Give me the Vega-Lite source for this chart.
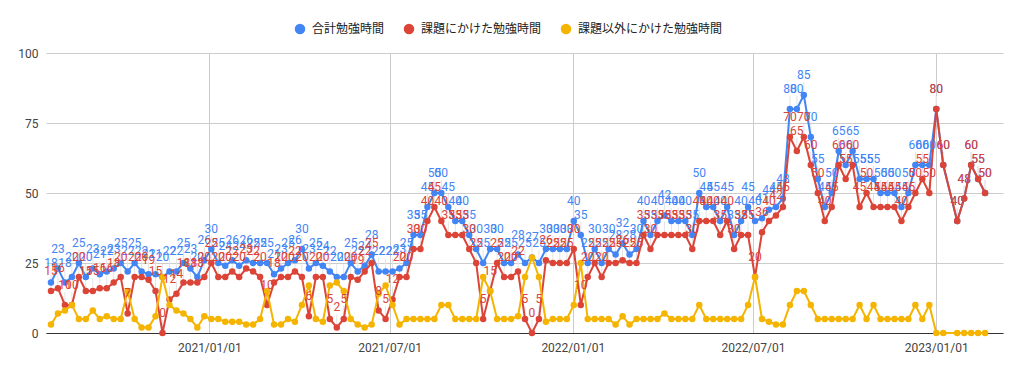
{
"$schema": "https://vega.github.io/schema/vega-lite/v6.json",
"width": 957, "height": 280,
"autosize": {"type": "none"},
"padding": {"left": 46, "top": 53, "right": 6, "bottom": 40},
"config": {"view": {"stroke": null}, "font": "Roboto"},
"data": {"values": [
{"d":"2020/07/26","t":18,"r":15,"o":3},
{"d":"2020/08/02","t":23,"r":16,"o":7},
{"d":"2020/08/09","t":18,"r":10,"o":8},
{"d":"2020/08/16","t":20,"r":10,"o":10},
{"d":"2020/08/23","t":25,"r":20,"o":5},
{"d":"2020/08/30","t":20,"r":15,"o":5},
{"d":"2020/09/06","t":23,"r":15,"o":8},
{"d":"2020/09/13","t":21,"r":16,"o":5},
{"d":"2020/09/20","t":22,"r":16,"o":6},
{"d":"2020/09/27","t":23,"r":18,"o":5},
{"d":"2020/10/04","t":25,"r":20,"o":5},
{"d":"2020/10/11","t":22,"r":7,"o":15},
{"d":"2020/10/18","t":25,"r":20,"o":5},
{"d":"2020/10/25","t":22,"r":20,"o":2},
{"d":"2020/11/01","t":21,"r":19,"o":2},
{"d":"2020/11/08","t":21,"r":15,"o":6},
{"d":"2020/11/15","t":20,"r":0,"o":20},
{"d":"2020/11/22","t":22,"r":12,"o":10},
{"d":"2020/11/29","t":22,"r":14,"o":8},
{"d":"2020/12/06","t":25,"r":18,"o":7},
{"d":"2020/12/13","t":23,"r":18,"o":5},
{"d":"2020/12/20","t":20,"r":18,"o":2},
{"d":"2020/12/27","t":26,"r":20,"o":6},
{"d":"2021/01/03","t":30,"r":25,"o":5},
{"d":"2021/01/10","t":25,"r":20,"o":5},
{"d":"2021/01/17","t":24,"r":20,"o":4},
{"d":"2021/01/24","t":26,"r":22,"o":4},
{"d":"2021/01/31","t":24,"r":20,"o":4},
{"d":"2021/02/07","t":26,"r":23,"o":3},
{"d":"2021/02/14","t":25,"r":22,"o":3},
{"d":"2021/02/21","t":25,"r":20,"o":5},
{"d":"2021/02/28","t":25,"r":10,"o":15},
{"d":"2021/03/07","t":21,"r":18,"o":3},
{"d":"2021/03/14","t":23,"r":20,"o":3},
{"d":"2021/03/21","t":25,"r":20,"o":5},
{"d":"2021/03/28","t":26,"r":22,"o":4},
{"d":"2021/04/04","t":30,"r":20,"o":10},
{"d":"2021/04/11","t":23,"r":6,"o":17},
{"d":"2021/04/18","t":25,"r":20,"o":5},
{"d":"2021/04/25","t":24,"r":20,"o":4},
{"d":"2021/05/02","t":22,"r":5,"o":17},
{"d":"2021/05/09","t":20,"r":2,"o":18},
{"d":"2021/05/16","t":20,"r":5,"o":15},
{"d":"2021/05/23","t":25,"r":20,"o":5},
{"d":"2021/05/30","t":22,"r":19,"o":3},
{"d":"2021/06/06","t":24,"r":22,"o":2},
{"d":"2021/06/13","t":28,"r":25,"o":3},
{"d":"2021/06/20","t":22,"r":8,"o":14},
{"d":"2021/06/27","t":22,"r":5,"o":17},
{"d":"2021/07/04","t":22,"r":12,"o":10},
{"d":"2021/07/11","t":23,"r":20,"o":3},
{"d":"2021/07/18","t":25,"r":20,"o":5},
{"d":"2021/07/25","t":35,"r":30,"o":5},
{"d":"2021/08/01","t":35,"r":30,"o":5},
{"d":"2021/08/08","t":45,"r":40,"o":5},
{"d":"2021/08/15","t":50,"r":45,"o":5},
{"d":"2021/08/22","t":50,"r":40,"o":10},
{"d":"2021/08/29","t":45,"r":35,"o":10},
{"d":"2021/09/05","t":40,"r":35,"o":5},
{"d":"2021/09/12","t":40,"r":35,"o":5},
{"d":"2021/09/19","t":35,"r":30,"o":5},
{"d":"2021/09/26","t":30,"r":25,"o":5},
{"d":"2021/10/03","t":25,"r":5,"o":20},
{"d":"2021/10/10","t":30,"r":15,"o":15},
{"d":"2021/10/17","t":30,"r":25,"o":5},
{"d":"2021/10/24","t":25,"r":20,"o":5},
{"d":"2021/10/31","t":25,"r":20,"o":5},
{"d":"2021/11/07","t":28,"r":22,"o":6},
{"d":"2021/11/14","t":25,"r":5,"o":20},
{"d":"2021/11/21","t":27,"r":0,"o":27},
{"d":"2021/11/28","t":25,"r":5,"o":20},
{"d":"2021/12/05","t":30,"r":26,"o":4},
{"d":"2021/12/12","t":30,"r":25,"o":5},
{"d":"2021/12/19","t":30,"r":25,"o":5},
{"d":"2021/12/26","t":30,"r":25,"o":5},
{"d":"2022/01/02","t":40,"r":30,"o":10},
{"d":"2022/01/09","t":35,"r":10,"o":25},
{"d":"2022/01/16","t":25,"r":20,"o":5},
{"d":"2022/01/23","t":30,"r":25,"o":5},
{"d":"2022/01/30","t":25,"r":20,"o":5},
{"d":"2022/02/06","t":30,"r":25,"o":5},
{"d":"2022/02/13","t":28,"r":25,"o":3},
{"d":"2022/02/20","t":32,"r":26,"o":6},
{"d":"2022/02/27","t":28,"r":25,"o":3},
{"d":"2022/03/06","t":30,"r":25,"o":5},
{"d":"2022/03/13","t":40,"r":35,"o":5},
{"d":"2022/03/20","t":35,"r":30,"o":5},
{"d":"2022/03/27","t":40,"r":35,"o":5},
{"d":"2022/04/03","t":42,"r":35,"o":7},
{"d":"2022/04/10","t":40,"r":35,"o":5},
{"d":"2022/04/17","t":40,"r":35,"o":5},
{"d":"2022/04/24","t":40,"r":35,"o":5},
{"d":"2022/05/01","t":35,"r":30,"o":5},
{"d":"2022/05/08","t":50,"r":40,"o":10},
{"d":"2022/05/15","t":45,"r":40,"o":5},
{"d":"2022/05/22","t":45,"r":40,"o":5},
{"d":"2022/05/29","t":40,"r":35,"o":5},
{"d":"2022/06/05","t":45,"r":40,"o":5},
{"d":"2022/06/12","t":35,"r":30,"o":5},
{"d":"2022/06/19","t":40,"r":35,"o":5},
{"d":"2022/06/26","t":45,"r":35,"o":10},
{"d":"2022/07/03","t":40,"r":20,"o":20},
{"d":"2022/07/10","t":41,"r":36,"o":5},
{"d":"2022/07/17","t":44,"r":40,"o":4},
{"d":"2022/07/24","t":45,"r":42,"o":3},
{"d":"2022/07/31","t":48,"r":45,"o":3},
{"d":"2022/08/07","t":80,"r":70,"o":10},
{"d":"2022/08/14","t":80,"r":65,"o":15},
{"d":"2022/08/21","t":85,"r":70,"o":15},
{"d":"2022/08/28","t":70,"r":60,"o":10},
{"d":"2022/09/04","t":55,"r":50,"o":5},
{"d":"2022/09/11","t":45,"r":40,"o":5},
{"d":"2022/09/18","t":50,"r":45,"o":5},
{"d":"2022/09/25","t":65,"r":60,"o":5},
{"d":"2022/10/02","t":60,"r":55,"o":5},
{"d":"2022/10/09","t":65,"r":60,"o":5},
{"d":"2022/10/16","t":55,"r":45,"o":10},
{"d":"2022/10/23","t":55,"r":50,"o":5},
{"d":"2022/10/30","t":55,"r":45,"o":10},
{"d":"2022/11/06","t":50,"r":45,"o":5},
{"d":"2022/11/13","t":50,"r":45,"o":5},
{"d":"2022/11/20","t":50,"r":45,"o":5},
{"d":"2022/11/27","t":45,"r":40,"o":5},
{"d":"2022/12/04","t":50,"r":45,"o":5},
{"d":"2022/12/11","t":60,"r":50,"o":10},
{"d":"2022/12/18","t":60,"r":55,"o":5},
{"d":"2022/12/25","t":60,"r":50,"o":10},
{"d":"2023/01/01","t":80,"r":80,"o":0},
{"d":"2023/01/08","t":60,"r":60,"o":0},
{"d":"2023/01/22","t":40,"r":40,"o":0},
{"d":"2023/01/29","t":48,"r":48,"o":0},
{"d":"2023/02/05","t":60,"r":60,"o":0},
{"d":"2023/02/12","t":55,"r":55,"o":0},
{"d":"2023/02/19","t":50,"r":50,"o":0}
]},
"transform": [{"fold": ["t", "r", "o"], "as": ["s", "v"]}],
"encoding": {
  "x": {"field": "d", "type": "temporal",
    "scale": {"domain": [{"year": 2020, "month": 7, "date": 21}, {"year": 2023, "month": 3, "date": 9}]},
    "axis": {"title": null, "format": "%Y/%m/%d",
      "values": [{"year": 2021, "month": 1, "date": 1}, {"year": 2021, "month": 7, "date": 1}, {"year": 2022, "month": 1, "date": 1}, {"year": 2022, "month": 7, "date": 1}, {"year": 2023, "month": 1, "date": 1}],
      "ticks": false, "domain": true, "domainColor": "#333333", "domainWidth": 1,
      "grid": true, "gridColor": "#cccccc", "labelFontSize": 12, "labelColor": "#444444", "labelPadding": 9, "labelFont": "Roboto"}},
  "y": {"field": "v", "type": "quantitative",
    "scale": {"domain": [0, 100], "nice": false},
    "axis": {"title": null, "values": [0, 25, 50, 75, 100], "ticks": false, "domain": false,
      "grid": true, "gridColor": "#cccccc", "labelFontSize": 12, "labelColor": "#444444", "labelPadding": 8, "labelFont": "Roboto"}},
  "color": {"field": "s", "type": "nominal",
    "scale": {"domain": ["t", "r", "o"], "range": ["#4285F4", "#DB4437", "#F4B400"]},
    "legend": {"title": null, "orient": "none", "legendX": 248, "legendY": -30, "direction": "horizontal",
      "symbolType": "circle", "symbolSize": 110, "symbolStrokeWidth": 0, "labelFontSize": 12,
      "labelFont": "Noto Sans CJK JP", "labelColor": "#222222", "labelOffset": 6, "columnPadding": 18,
      "labelExpr": "{'t':'合計勉強時間','r':'課題にかけた勉強時間','o':'課題以外にかけた勉強時間'}[datum.label]"}}
},
"layer": [
  {"transform": [{"filter": "datum.s !== 'o'"}], "mark": {"type": "rule", "y2Offset": -13, "strokeWidth": 1},
   "encoding": {"y2": {"field": "v"}, "color": {"value": "#e4e4e4"}}},
  {"transform": [{"filter": "datum.s === 't'"}], "mark": {"type": "line", "strokeWidth": 2, "point": {"filled": true, "size": 42}}},
  {"transform": [{"filter": "datum.s === 'r'"}], "mark": {"type": "line", "strokeWidth": 2, "point": {"filled": true, "size": 42}}},
  {"transform": [{"filter": "datum.s === 'o'"}], "mark": {"type": "line", "strokeWidth": 2, "point": {"filled": true, "size": 42}}},
  {"transform": [{"filter": "datum.s === 't'"}], "mark": {"type": "text", "dy": -16, "baseline": "alphabetic", "fontSize": 12, "font": "Roboto"},
   "encoding": {"text": {"field": "v", "type": "quantitative"}}},
  {"transform": [{"filter": "datum.s === 'r'"}], "mark": {"type": "text", "dy": -16, "baseline": "alphabetic", "fontSize": 12, "font": "Roboto"},
   "encoding": {"text": {"field": "v", "type": "quantitative"}}}
]
}
